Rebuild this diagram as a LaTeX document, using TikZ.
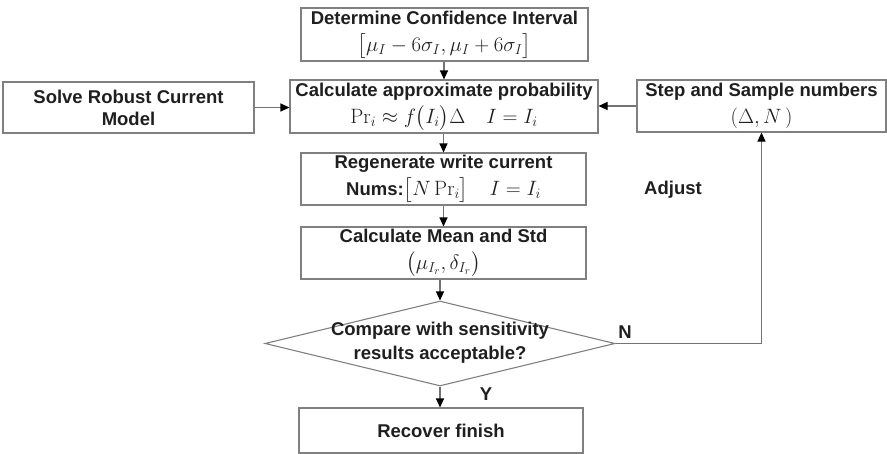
\documentclass[tikz,border=0pt]{standalone}
\usepackage{amsmath}
\usepackage{exscale}
\usepackage[no-math]{fontspec}
\setmainfont{Liberation Sans}
\usetikzlibrary{arrows.meta,shapes.geometric}
\newcommand{\mth}[1]{{\fontsize{21}{24}\selectfont\mdseries$#1$}}
\begin{document}
\begin{tikzpicture}[x=1pt,y=-1pt,
  box/.style={draw=black!50,line width=1.1pt,rectangle,inner sep=0pt,align=center,
    text=black!88,font=\fontsize{18.5}{22}\selectfont\bfseries},
  lbl/.style={text=black!88,font=\fontsize{18.5}{24}\selectfont\bfseries,inner sep=0pt},
  conn/.style={draw=black!55,line width=1.1pt,-{Triangle[length=9pt,width=8pt,color=black]}}
]
\useasboundingbox (0,0) rectangle (887,453);
\node[box,minimum width=287pt,minimum height=53pt] (b1) at (444.5,34.5)
  {Determine Confidence Interval\\[5pt]\mth{\bigl[\mu_I-6\sigma_I,\mu_I+6\sigma_I\bigr]}};
\node[box,minimum width=308pt,minimum height=53pt] (b2) at (444,106.5)
  {Calculate approximate probability\\[5pt]\mth{\mathrm{Pr}_i\approx f\bigl(I_i\bigr)\Delta\quad I=I_i}};
\node[box,minimum width=285pt,minimum height=52pt] (b3) at (443.5,179)
  {Regenerate write current\\[5pt]Nums:\mth{\bigl[N\,\mathrm{Pr}_i\bigr]\quad I=I_i}};
\node[box,minimum width=285pt,minimum height=52pt] (b4) at (443.5,253)
  {Calculate Mean and Std\\[5pt]\mth{\bigl(\mu_{I_r},\delta_{I_r}\bigr)}};
\node[draw=black!50,line width=1.1pt,diamond,inner sep=0pt,minimum width=350pt,minimum height=85pt] (d) at (440,343.5) {};
\node[lbl,align=center] (dt) at (440,343) {Compare with sensitivity\\results acceptable?};
\node[box,minimum width=284pt,minimum height=45pt] (rf) at (441,430.5) {Recover finish};
\node[box,minimum width=251pt,minimum height=51pt] (sv) at (128.5,107.5) {Solve Robust Current\\Model};
\node[box,minimum width=249pt,minimum height=52pt] (st) at (761.5,106)
  {Step and Sample numbers\\[5pt]\mth{(\Delta,N\,)}};
\node[lbl] (nl) at (625,332) {N};
\node[lbl] (yl) at (486,394) {Y};
\node[lbl] (al) at (673,190) {Adjust};
\draw[conn] (b1.south -| b2.north) -- (b2.north);
\draw[conn] (b2.south -| b3.north) -- (b3.north);
\draw[conn] (b3.south) -- (b4.north);
\draw[conn] (b4.south -| d.north) -- (d.north);
\draw[conn] (d.south) -- (d.south |- rf.north);
\draw[conn] (sv.east) -- (sv.east -| b2.west);
\draw[conn] (st.west) -- (st.west -| b2.east);
\draw[conn] (d.east) -| (st.south);
\end{tikzpicture}
\end{document}
